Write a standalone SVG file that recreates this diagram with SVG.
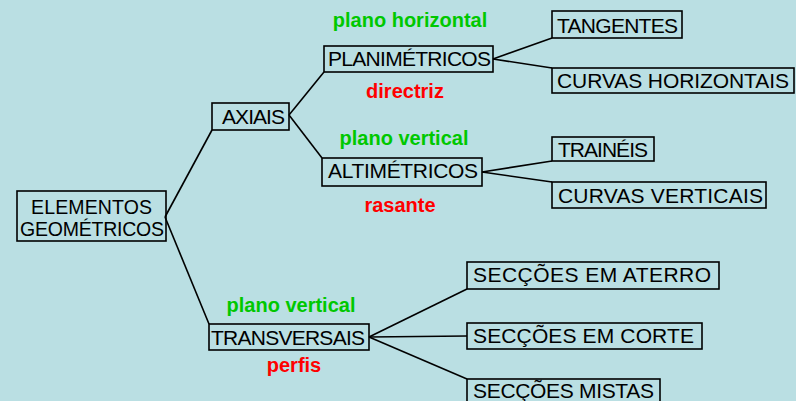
<svg xmlns="http://www.w3.org/2000/svg" width="796" height="401" viewBox="0 0 796 401">
<style>
.box{fill:none;stroke:#000;stroke-width:1.6}
.t{font-family:"Liberation Sans",Arial,sans-serif;font-size:21px;fill:#000}
.t2{font-family:"Liberation Sans",Arial,sans-serif;font-size:19.5px;fill:#000}
.c{stroke:#000;stroke-width:1.6;fill:none}
.g{font-family:"Liberation Sans",Arial,sans-serif;font-size:20px;font-weight:bold;fill:#00c800;text-anchor:middle}
.r{font-family:"Liberation Sans",Arial,sans-serif;font-size:20px;font-weight:bold;fill:#ff0000;text-anchor:middle}
</style>
<rect width="796" height="401" fill="#badfe3"/>
<g id="connectors">
<line class="c" x1="165" y1="217" x2="212" y2="130"/>
<line class="c" x1="165" y1="217" x2="209" y2="324"/>
<line class="c" x1="289" y1="115" x2="324" y2="72"/>
<line class="c" x1="289" y1="115" x2="322" y2="158"/>
<line class="c" x1="493" y1="59" x2="552" y2="38"/>
<line class="c" x1="493" y1="59" x2="552" y2="68"/>
<line class="c" x1="482" y1="172" x2="552" y2="161"/>
<line class="c" x1="482" y1="172" x2="552" y2="182"/>
<line class="c" x1="369" y1="337" x2="467" y2="289"/>
<line class="c" x1="369" y1="337" x2="467" y2="336"/>
<line class="c" x1="369" y1="337" x2="467" y2="379"/>
</g>
<g id="labels">
<text class="g" x="410" y="27">plano horizontal</text>
<text class="r" x="405" y="98">directriz</text>
<text class="g" x="404" y="145">plano vertical</text>
<text class="r" x="400" y="212">rasante</text>
<text class="g" x="291" y="312">plano vertical</text>
<text class="r" x="294" y="372">perfis</text>
</g>
<g id="n-elementos">
<rect class="box" x="17" y="191" width="149" height="50"/>
<text class="t2" x="31" y="214" textLength="121" lengthAdjust="spacing">ELEMENTOS</text>
<text class="t2" x="20" y="236" textLength="144" lengthAdjust="spacing">GEOMÉTRICOS</text>
</g>
<g id="n-axiais">
<rect class="box" x="212" y="103" width="77" height="27"/>
<text class="t" x="222" y="124" textLength="63" lengthAdjust="spacing">AXIAIS</text>
</g>
<g id="n-planimetricos">
<rect class="box" x="324" y="46" width="169" height="26"/>
<text class="t" x="328" y="66" textLength="163" lengthAdjust="spacing">PLANIMÉTRICOS</text>
</g>
<g id="n-altimetricos">
<rect class="box" x="322" y="158" width="160" height="28"/>
<text class="t" x="328" y="178" textLength="150" lengthAdjust="spacing">ALTIMÉTRICOS</text>
</g>
<g id="n-transversais">
<rect class="box" x="209" y="324" width="160" height="26"/>
<text class="t" x="211" y="345" textLength="154" lengthAdjust="spacing">TRANSVERSAIS</text>
</g>
<g id="n-tangentes">
<rect class="box" x="552" y="11" width="130" height="27"/>
<text class="t" x="557" y="33" textLength="121" lengthAdjust="spacing">TANGENTES</text>
</g>
<g id="n-curvas-horizontais">
<rect class="box" x="552" y="68" width="242" height="25"/>
<text class="t" x="557" y="88" textLength="232" lengthAdjust="spacing">CURVAS HORIZONTAIS</text>
</g>
<g id="n-traineis">
<rect class="box" x="552" y="137" width="102" height="24"/>
<text class="t" x="558" y="157" textLength="90" lengthAdjust="spacing">TRAINÉIS</text>
</g>
<g id="n-curvas-verticais">
<rect class="box" x="552" y="182" width="214" height="26"/>
<text class="t" x="558" y="203" textLength="205" lengthAdjust="spacing">CURVAS VERTICAIS</text>
</g>
<g id="n-aterro">
<rect class="box" x="467" y="262" width="252" height="27"/>
<text class="t" x="473" y="282" textLength="238" lengthAdjust="spacing">SECÇÕES EM ATERRO</text>
</g>
<g id="n-corte">
<rect class="box" x="467" y="323" width="235" height="26"/>
<text class="t" x="473" y="343" textLength="221" lengthAdjust="spacing">SECÇÕES EM CORTE</text>
</g>
<g id="n-mistas">
<rect class="box" x="467" y="379" width="193" height="30"/>
<text class="t" x="473" y="398" textLength="181" lengthAdjust="spacing">SECÇÕES MISTAS</text>
</g>
</svg>
